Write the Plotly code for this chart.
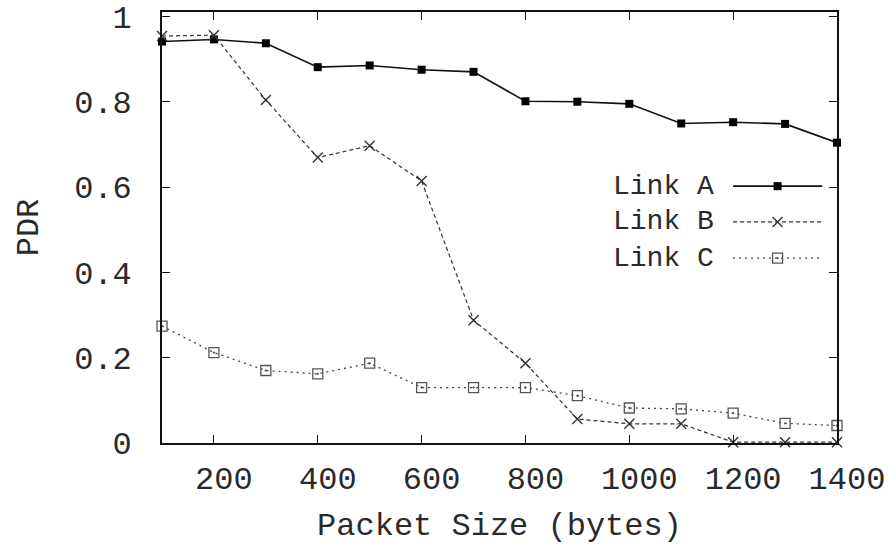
import plotly.graph_objects as go

packet_size = [100, 200, 300, 400, 500, 600, 700, 800, 900, 1000, 1100, 1200, 1300, 1400]
link_a = [0.941, 0.946, 0.937, 0.881, 0.885, 0.875, 0.870, 0.801, 0.800, 0.795, 0.749, 0.752, 0.748, 0.704]
link_b = [0.954, 0.956, 0.804, 0.669, 0.697, 0.614, 0.288, 0.187, 0.056, 0.045, 0.045, 0.002, 0.002, 0.002]
link_c = [0.274, 0.212, 0.170, 0.162, 0.187, 0.130, 0.130, 0.130, 0.111, 0.082, 0.080, 0.070, 0.046, 0.041]
series_names = ["Link A", "Link B", "Link C"]
x_ticks = [200, 400, 600, 800, 1000, 1200, 1400]
y_ticks = [0, 0.2, 0.4, 0.6, 0.8, 1]
y_tick_labels = ["0", "0.2", "0.4", "0.6", "0.8", "1"]

FONT = "Liberation Mono, Courier New, monospace"
FS = 32
TXT = "#2a2a2a"

styles = [
    dict(line=dict(color="#111", width=1.6, dash="solid"),
         marker=dict(symbol="square", size=8, color="#000")),
    dict(line=dict(color="#333", width=1.2, dash="4px,3px"),
         marker=dict(symbol="x-thin", size=10, color="#333", line=dict(width=1.4, color="#333"))),
    dict(line=dict(color="#444", width=1.3, dash="2px,4px"),
         marker=dict(symbol="square-open-dot", size=10, color="#555", line=dict(width=1.3, color="#555"))),
]

fig = go.Figure()
for name, vals, st in zip(series_names, [link_a, link_b, link_c], styles):
    fig.add_trace(go.Scatter(x=packet_size, y=vals, name=name, mode="lines+markers",
                             line=st["line"], marker=st["marker"], showlegend=False,
                             cliponaxis=False))

# legend samples drawn on an invisible overlay axis (0..1 over plot area)
leg_x = [0.846, 0.912, 0.978]
leg_y = [0.596, 0.513, 0.429]
for name, st, ly in zip(series_names, styles, leg_y):
    fig.add_trace(go.Scatter(x=[leg_x[0], leg_x[2]], y=[ly, ly], mode="lines",
                             line=st["line"], xaxis="x2", yaxis="y2", showlegend=False,
                             hoverinfo="skip"))
    fig.add_trace(go.Scatter(x=[leg_x[1]], y=[ly], mode="markers",
                             marker=st["marker"], xaxis="x2", yaxis="y2", showlegend=False,
                             hoverinfo="skip"))
    fig.add_annotation(x=0.819, y=ly, xref="x2", yref="y2", text=name, showarrow=False,
                       xanchor="right", yanchor="middle", borderpad=0,
                       font=dict(family=FONT, size=28, color=TXT))

fig.update_layout(
    width=888, height=548,
    margin=dict(l=162, r=51, t=12, b=105),
    paper_bgcolor="white", plot_bgcolor="white",
    font=dict(family=FONT, size=FS, color=TXT),
    xaxis=dict(range=[100, 1400], tickvals=x_ticks, ticks="inside", ticklen=8,
               tickwidth=1.2, tickcolor="#111", mirror="ticks", showline=True,
               linecolor="#111", linewidth=1.6, showgrid=False, zeroline=False,
               ticklabelshift=10, ticklabelstandoff=6, automargin=False,
               title=dict(text="Packet Size (bytes)", standoff=14,
                          font=dict(family=FONT, size=FS))),
    yaxis=dict(range=[0, 1.0103], tickvals=y_ticks, ticktext=y_tick_labels,
               ticks="inside", ticklen=8, tickwidth=1.2, tickcolor="#111",
               mirror="ticks", showline=True, linecolor="#111", linewidth=1.6,
               showgrid=False, zeroline=False, ticklabelstandoff=22, automargin=False,
               title=dict(text="PDR", standoff=26, font=dict(family=FONT, size=FS))),
    xaxis2=dict(range=[0, 1], overlaying="x", visible=False, anchor="y2"),
    yaxis2=dict(range=[0, 1], overlaying="y", visible=False, anchor="x2"),
)

fig.write_html("out.html")
